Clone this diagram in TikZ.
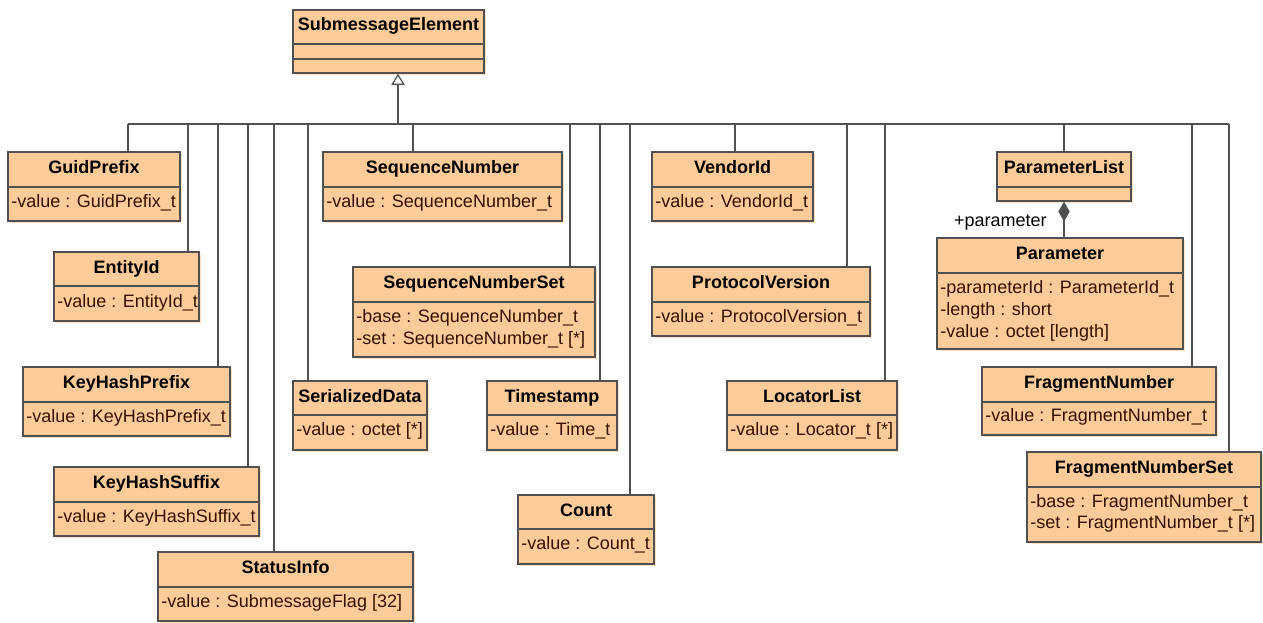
\documentclass[tikz,border=0pt]{standalone}
\usepackage{fontspec}
\setmainfont{Liberation Sans}
\usetikzlibrary{arrows.meta}
\usetikzlibrary{fit}
\usetikzlibrary{shadows}
\definecolor{clsfill}{RGB}{255,204,153}
\definecolor{clsline}{RGB}{80,80,80}
\definecolor{attrtext}{RGB}{51,17,0}
\definecolor{shadowcol}{RGB}{255,226,196}

\begin{document}
\begin{tikzpicture}[x=0.75pt, y=-0.75pt, font=\fontsize{13.5}{16.5}\selectfont,
    cls/.style={draw=clsline, fill=clsfill, line width=0.9pt, inner sep=0pt,
        drop shadow={shadow xshift=1.5pt, shadow yshift=-1.5pt, fill=shadowcol, opacity=1}},
    sep/.style={draw=clsline, line width=0.9pt},
    ttl/.style={font=\fontsize{13.5}{16.5}\selectfont\bfseries, anchor=base, inner sep=0pt},
    att/.style={anchor=base west, inner sep=0pt, text=attrtext},
    link/.style={draw=clsline, line width=0.9pt}]

\useasboundingbox (0,0) rectangle (1263,622);

\coordinate (busS) at (398,124);
\coordinate (jGuid) at (128,124);
\coordinate (jEnt) at (188,124);
\coordinate (jKhp) at (218,124);
\coordinate (jKhs) at (248,124);
\coordinate (jStat) at (274,124);
\coordinate (jSer) at (308,124);
\coordinate (jSeq) at (413,124);
\coordinate (jSeqs) at (570,124);
\coordinate (jTime) at (600,124);
\coordinate (jCount) at (630,124);
\coordinate (jVend) at (735,124);
\coordinate (jProt) at (847,124);
\coordinate (jLoc) at (885,124);
\coordinate (jPlist) at (1064,124);
\coordinate (jFn) at (1192,124);
\coordinate (jFns) at (1229,124);

\node[cls, fit={(293,10) (484,73)}] (sub) {};
\draw[sep] (293,44) -- (484,44);
\draw[sep] (293,59) -- (484,59);
\node[ttl] (subT) at (388.5,30) {SubmessageElement};

\draw[link] (jGuid) -- (jFns);
\draw[link, -{Triangle[open, length=8.5pt, width=10pt, fill=white]}] (busS) -- (busS |- sub.south);

\node[cls, fit={(8,152) (180,221)}] (guid) {};
\draw[sep] (8,187) -- (180,187);
\node[ttl] (guidT) at (94,173) {GuidPrefix};
\node[att] (guidA) at (11,207) {-value : GuidPrefix\_t};
\draw[link] (jGuid) -- (jGuid |- guid.north);

\node[cls, fit={(54,252) (199,321)}] (ent) {};
\draw[sep] (54,286) -- (199,286);
\node[ttl] (entT) at (126.5,273) {EntityId};
\node[att] (entA) at (57,307) {-value : EntityId\_t};
\draw[link] (jEnt) -- (jEnt |- ent.north);

\node[cls, fit={(23,367) (230,436)}] (khp) {};
\draw[sep] (23,402) -- (230,402);
\node[ttl] (khpT) at (126.5,388) {KeyHashPrefix};
\node[att] (khpA) at (26,422) {-value : KeyHashPrefix\_t};
\draw[link] (jKhp) -- (jKhp |- khp.north);

\node[cls, fit={(54,467) (259,536)}] (khs) {};
\draw[sep] (54,502) -- (259,502);
\node[ttl] (khsT) at (156.5,488) {KeyHashSuffix};
\node[att] (khsA) at (57,522) {-value : KeyHashSuffix\_t};
\draw[link] (jKhs) -- (jKhs |- khs.north);

\node[cls, fit={(158,552) (413,621)}] (stat) {};
\draw[sep] (158,587) -- (413,587);
\node[ttl] (statT) at (285.5,573) {StatusInfo};
\node[att] (statA) at (161,607) {-value : SubmessageFlag [32]};
\draw[link] (jStat) -- (jStat |- stat.north);

\node[cls, fit={(293,381) (427,450)}] (ser) {};
\draw[sep] (293,415) -- (427,415);
\node[ttl] (serT) at (360,402) {SerializedData};
\node[att] (serA) at (296,435) {-value : octet [*]};
\draw[link] (jSer) -- (jSer |- ser.north);

\node[cls, fit={(323,152) (562,221)}] (seq) {};
\draw[sep] (323,187) -- (562,187);
\node[ttl] (seqT) at (442.5,173) {SequenceNumber};
\node[att] (seqA) at (326,207) {-value : SequenceNumber\_t};
\draw[link] (jSeq) -- (jSeq |- seq.north);

\node[cls, fit={(353,267) (595,357)}] (seqs) {};
\draw[sep] (353,302) -- (595,302);
\node[ttl] (seqsT) at (474,288) {SequenceNumberSet};
\node[att] (seqsA) at (356,322) {-base : SequenceNumber\_t};
\node[att] (seqsB) at (356,344) {-set : SequenceNumber\_t [*]};
\draw[link] (jSeqs) -- (jSeqs |- seqs.north);

\node[cls, fit={(487,381) (617,450)}] (time) {};
\draw[sep] (487,415) -- (617,415);
\node[ttl] (timeT) at (552,402) {Timestamp};
\node[att] (timeA) at (490,435) {-value : Time\_t};
\draw[link] (jTime) -- (jTime |- time.north);

\node[cls, fit={(518,495) (654,564)}] (count) {};
\draw[sep] (518,529) -- (654,529);
\node[ttl] (countT) at (586,516) {Count};
\node[att] (countA) at (521,549) {-value : Count\_t};
\draw[link] (jCount) -- (jCount |- count.north);

\node[cls, fit={(652,152) (813,221)}] (vend) {};
\draw[sep] (652,187) -- (813,187);
\node[ttl] (vendT) at (732.5,173) {VendorId};
\node[att] (vendA) at (655,207) {-value : VendorId\_t};
\draw[link] (jVend) -- (jVend |- vend.north);

\node[cls, fit={(652,267) (870,336)}] (prot) {};
\draw[sep] (652,302) -- (870,302);
\node[ttl] (protT) at (761,288) {ProtocolVersion};
\node[att] (protA) at (655,322) {-value : ProtocolVersion\_t};
\draw[link] (jProt) -- (jProt |- prot.north);

\node[cls, fit={(727,381) (897,450)}] (loc) {};
\draw[sep] (727,415) -- (897,415);
\node[ttl] (locT) at (812,402) {LocatorList};
\node[att] (locA) at (730,435) {-value : Locator\_t [*]};
\draw[link] (jLoc) -- (jLoc |- loc.north);

\node[cls, fit={(997,152) (1131,201)}] (plist) {};
\draw[sep] (997,187) -- (1131,187);
\node[ttl] (plistT) at (1064,173) {ParameterList};
\draw[link] (jPlist) -- (jPlist |- plist.north);

\node[cls, fit={(937,238) (1183,349)}] (param) {};
\draw[sep] (937,273) -- (1183,273);
\node[ttl] (paramT) at (1060,259) {Parameter};
\node[att] (paramA) at (940,293) {-parameterId : ParameterId\_t};
\node[att] (paramB) at (940,315) {-length : short};
\node[att] (paramC) at (940,337) {-value : octet [length]};
\draw[link, {Diamond[length=15pt, width=8.5pt]}-] (plist.south) -- (plist.south |- param.north);
\node[anchor=base east, inner sep=0pt] (role) at (1047,226) {+parameter};

\node[cls, fit={(982,367) (1216,435)}] (fn) {};
\draw[sep] (982,402) -- (1216,402);
\node[ttl] (fnT) at (1099,388) {FragmentNumber};
\node[att] (fnA) at (985,421) {-value : FragmentNumber\_t};
\draw[link] (jFn) -- (jFn |- fn.north);

\node[cls, fit={(1027,452) (1261,542)}] (fns) {};
\draw[sep] (1027,487) -- (1261,487);
\node[ttl] (fnsT) at (1144,473) {FragmentNumberSet};
\node[att] (fnsA) at (1030,507) {-base : FragmentNumber\_t};
\node[att] (fnsB) at (1030,528) {-set : FragmentNumber\_t [*]};
\draw[link] (jFns) -- (jFns |- fns.north);

\end{tikzpicture}
\end{document}
